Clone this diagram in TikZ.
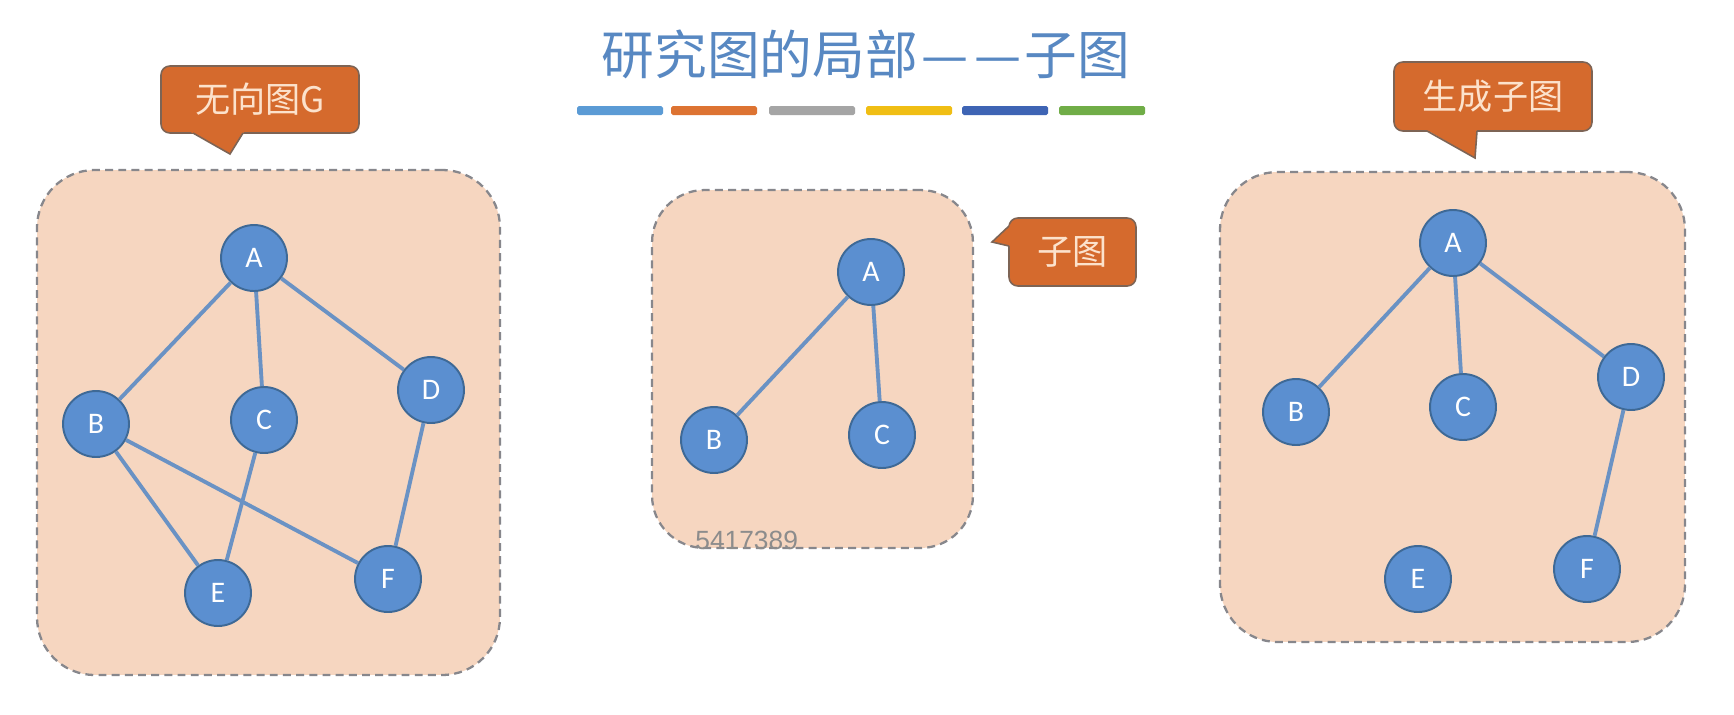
\documentclass[tikz,border=0pt]{standalone}
\usepackage{fontspec}
\newfontfamily\cjk{Noto Sans CJK SC}
\newfontfamily\latf{Carlito}
\newfontfamily\wmf{Liberation Sans}
\definecolor{boxfill}{RGB}{246,214,192}
\definecolor{boxline}{RGB}{135,135,140}
\definecolor{nodefill}{RGB}{91,143,208}
\definecolor{nodeline}{RGB}{62,105,150}
\definecolor{edgecol}{RGB}{106,146,196}
\definecolor{callfill}{RGB}{213,106,45}
\definecolor{callline}{RGB}{125,100,85}
\definecolor{calltext}{RGB}{252,226,204}
\definecolor{titlecol}{RGB}{88,136,194}
\definecolor{barA}{RGB}{91,155,213}
\definecolor{barB}{RGB}{221,115,50}
\definecolor{barC}{RGB}{165,165,165}
\definecolor{barD}{RGB}{240,190,20}
\definecolor{barE}{RGB}{62,100,180}
\definecolor{barF}{RGB}{112,173,71}
\definecolor{wmcol}{RGB}{140,140,140}
\begin{document}
\begin{tikzpicture}[x=0.02cm,y=-0.02cm,
  pbox/.style={draw=boxline, fill=boxfill, line width=1.3pt, dash pattern=on 4.5pt off 3pt, rounded corners=1.15cm, inner sep=0pt},
  gnode/.style={circle, draw=nodeline, line width=1.1pt, fill=nodefill, minimum size=1.32cm, inner sep=0pt, text=white, font=\latf\fontsize{17}{17}\selectfont},
  edge/.style={draw=edgecol, line width=2.2pt},
  callout/.style={draw=callline, fill=callfill, line width=0.9pt, rounded corners=5pt, inner sep=0pt, text=calltext, font=\cjk\fontsize{20}{20}\selectfont},
  tailfill/.style={fill=callfill},
  tailline/.style={draw=callline, line width=0.9pt, line join=miter},
  bar/.style={rounded corners=1pt}
]
\useasboundingbox (0,0) rectangle (1734,714);
\fill[white] (0,0) rectangle (1734,714);

% title
\node[text=titlecol, font=\cjk\fontsize{30}{30}\selectfont, inner sep=0pt] (title) at (866,54) {研究图的局部\hspace{0.06em}—\hspace{0.12em}—\hspace{0.06em}子图};
\fill[bar, barA] (577,106) rectangle +(86,9);
\fill[bar, barB] (671,106) rectangle +(86,9);
\fill[bar, barC] (769,106) rectangle +(86,9);
\fill[bar, barD] (866,106) rectangle +(86,9);
\fill[bar, barE] (962,106) rectangle +(86,9);
\fill[bar, barF] (1059,106) rectangle +(86,9);

% boxes
\node[pbox, minimum width=9.26cm, minimum height=10.1cm] (box1) at (268.5,422.5) {};
\node[pbox, minimum width=6.42cm, minimum height=7.16cm, rounded corners=1.05cm] (box2) at (812.5,369) {};
\node[pbox, minimum width=9.3cm, minimum height=9.4cm] (box3) at (1452.5,407) {};

% watermark
\node[anchor=base west, inner sep=0pt, text=wmcol, font=\wmf\fontsize{15}{15}\selectfont] (wm) at (695,549) {5417389};

% graph G
\node[gnode] (gA) at (254,258) {A};
\node[gnode] (gB) at (96,424) {B};
\node[gnode] (gC) at (264,420) {C};
\node[gnode] (gD) at (431,390) {D};
\node[gnode] (gE) at (218,593) {E};
\node[gnode] (gF) at (388,579) {F};
\draw[edge] (gA) -- (gB);
\draw[edge] (gA) -- (gC);
\draw[edge] (gA) -- (gD);
\draw[edge] (gB) -- (gE);
\draw[edge] (gB) -- (gF);
\draw[edge] (gC) -- (gE);
\draw[edge] (gD) -- (gF);

% subgraph
\node[gnode] (sA) at (871,272) {A};
\node[gnode] (sB) at (714,440) {B};
\node[gnode] (sC) at (882,435) {C};
\draw[edge] (sA) -- (sB);
\draw[edge] (sA) -- (sC);

% spanning subgraph
\node[gnode] (tA) at (1453,243) {A};
\node[gnode] (tB) at (1296,412) {B};
\node[gnode] (tC) at (1463,407) {C};
\node[gnode] (tD) at (1631,377) {D};
\node[gnode] (tE) at (1418,579) {E};
\node[gnode] (tF) at (1587,569) {F};
\draw[edge] (tA) -- (tB);
\draw[edge] (tA) -- (tC);
\draw[edge] (tA) -- (tD);
\draw[edge] (tD) -- (tF);

% callouts
\node[callout, minimum width=3.96cm, minimum height=1.34cm] (c1) at (260,99.5) {无向图G};
\coordinate (t1) at (230,154);
\fill[tailfill] (183.5,128) -- (t1) -- (246.5,128) -- cycle;
\draw[tailline] (193,133) -- (t1) -- (243,133);

\node[callout, minimum width=2.54cm, minimum height=1.36cm] (c2) at (1072.5,252) {子图};
\coordinate (t2) at (992,242);
\fill[tailfill] (1013,222.2) -- (t2) -- (1013,246.9) -- cycle;
\draw[tailline] (1009,226) -- (t2) -- (1009,246);

\node[callout, minimum width=3.96cm, minimum height=1.38cm] (c3) at (1493,96.5) {生成子图};
\coordinate (t3) at (1475,158);
\fill[tailfill] (1419.9,126) -- (t3) -- (1477.3,126) -- cycle;
\draw[tailline] (1427,131) -- (t3) -- (1477,131);
\end{tikzpicture}
\end{document}
